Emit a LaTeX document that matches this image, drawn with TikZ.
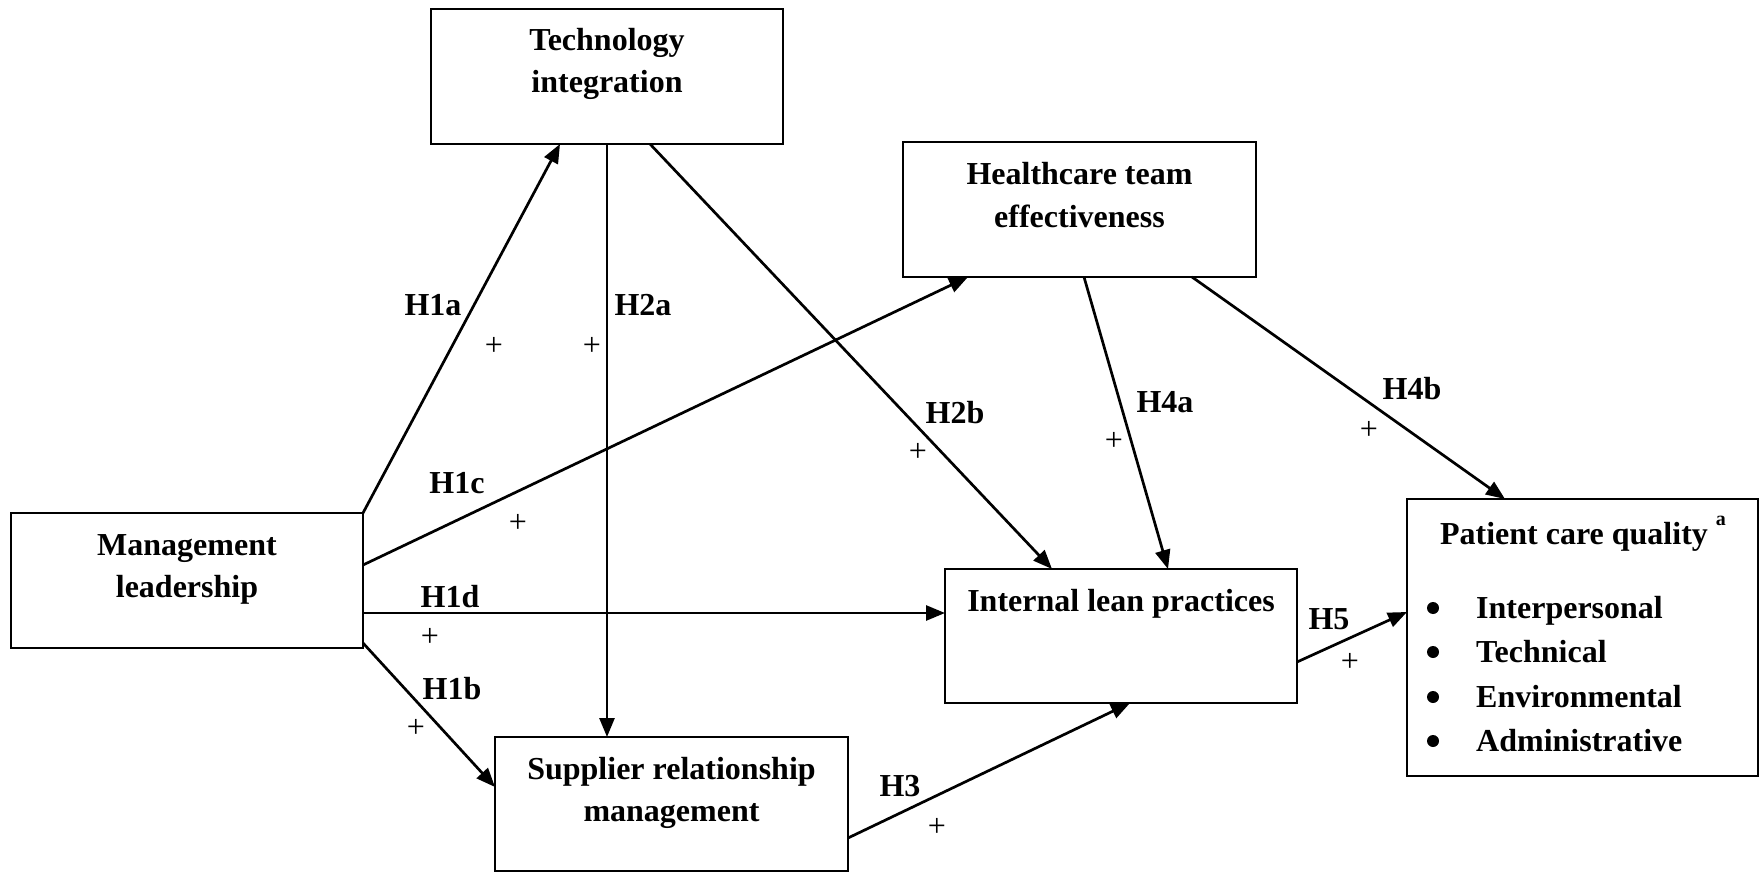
\documentclass[tikz,border=0pt]{standalone}
\usepackage{fontspec}
\setmainfont{Liberation Serif}
\usetikzlibrary{arrows.meta}
\begin{document}
\begin{tikzpicture}[x=1pt,y=-1pt,
  box/.style={draw, line width=2.6pt, minimum width=352pt, minimum height=135pt, inner sep=0pt, outer sep=0pt},
  txt/.style={anchor=base, font=\fontsize{32}{40}\selectfont\bfseries, inner sep=0pt},
  itm/.style={anchor=base west, font=\fontsize{32}{40}\selectfont\bfseries, inner sep=0pt},
  hyp/.style={anchor=base, font=\fontsize{32}{40}\selectfont\bfseries, inner sep=0pt},
  pls/.style={font=\fontsize{32}{40}\selectfont, inner sep=0pt},
  dot/.style={circle, fill, inner sep=0pt, minimum size=12pt},
  arr/.style={line width=2.7pt, -{Triangle[length=19pt,width=15pt]}}
]
\useasboundingbox (0,0) rectangle (1759,872);

% boxes
\node[box] (ti) at (607,76.5) {};
\node[box, minimum width=353pt] (hc) at (1079.5,209.5) {};
\node[box] (ml) at (187,580.5) {};
\node[box, minimum height=134pt] (ilp) at (1121,636) {};
\node[box, minimum width=353pt, minimum height=134pt] (srm) at (671.5,804) {};
\node[box, minimum width=351pt, minimum height=277pt] (pcq) at (1582.5,637.5) {};

% box texts
\node[txt] (ti1) at (607,51) {Technology};
\node[txt] (ti2) at (607,93) {integration};
\node[txt] (hc1) at (1079.5,184) {Healthcare team};
\node[txt] (hc2) at (1079.5,227) {effectiveness};
\node[txt] (ml1) at (187,555) {Management};
\node[txt] (ml2) at (187,597) {leadership};
\node[txt] (ilp1) at (1121,611) {Internal lean practices};
\node[txt] (srm1) at (671.5,779) {Supplier relationship};
\node[txt] (srm2) at (671.5,821) {management};
\node[txt] (pcq1) at (1583,544) {Patient care quality\ \raisebox{19pt}{\fontsize{20}{20}\selectfont a}};

\node[dot] (b1) at (1433,608) {};
\node[dot] (b2) at (1433,652) {};
\node[dot] (b3) at (1433,697) {};
\node[dot] (b4) at (1433,741) {};
\node[itm] (i1) at (1476,618) {Interpersonal};
\node[itm] (i2) at (1476,662) {Technical};
\node[itm] (i3) at (1476,707) {Environmental};
\node[itm] (i4) at (1476,751) {Administrative};

% connectors
\draw[arr] (ml.north east) -- ([xshift=-47pt]ti.south);
\draw[arr] (ti.south) -- (ti.south |- srm.north);
\draw[arr] ([xshift=43pt]ti.south) -- ([xshift=-69pt]ilp.north);
\draw[arr] ([yshift=15.5pt]ml.east) -- ([xshift=-111.5pt]hc.south);
\draw[arr] ([xshift=4.5pt]hc.south) -- ([xshift=47pt]ilp.north);
\draw[arr] ([xshift=112.5pt]hc.south) -- ([xshift=-77.5pt]pcq.north);
\draw[arr] ([yshift=-32.5pt]ml.east) -- ([yshift=23pt]ilp.west);
\draw[arr] ([yshift=-62.5pt]ml.east) -- ([yshift=17pt]srm.west);
\draw[arr] ([yshift=-34pt]srm.east) -- ([xshift=9pt]ilp.south);
\draw[arr] ([yshift=-26pt]ilp.east) -- ([yshift=25.5pt]pcq.west);

% hypothesis labels
\node[hyp] (h1a) at (433,315) {H1a};
\node[hyp] (h2a) at (643,315) {H2a};
\node[hyp] (h1c) at (457,493) {H1c};
\node[hyp] (h2b) at (955,423) {H2b};
\node[hyp] (h4a) at (1165,412) {H4a};
\node[hyp] (h4b) at (1412,399) {H4b};
\node[hyp] (h1d) at (450,607) {H1d};
\node[hyp] (h1b) at (452,699) {H1b};
\node[hyp] (h3) at (900,796) {H3};
\node[hyp] (h5) at (1329,629) {H5};

% plus signs
\node[pls] (p1a) at (494,346) {+};
\node[pls] (p2a) at (592,346) {+};
\node[pls] (p1c) at (518,523) {+};
\node[pls] (p2b) at (918,452) {+};
\node[pls] (p4a) at (1114,441) {+};
\node[pls] (p4b) at (1369,430) {+};
\node[pls] (p1d) at (430,637) {+};
\node[pls] (p1b) at (416,728) {+};
\node[pls] (p3) at (937,827) {+};
\node[pls] (p5) at (1350,662) {+};
\end{tikzpicture}
\end{document}
